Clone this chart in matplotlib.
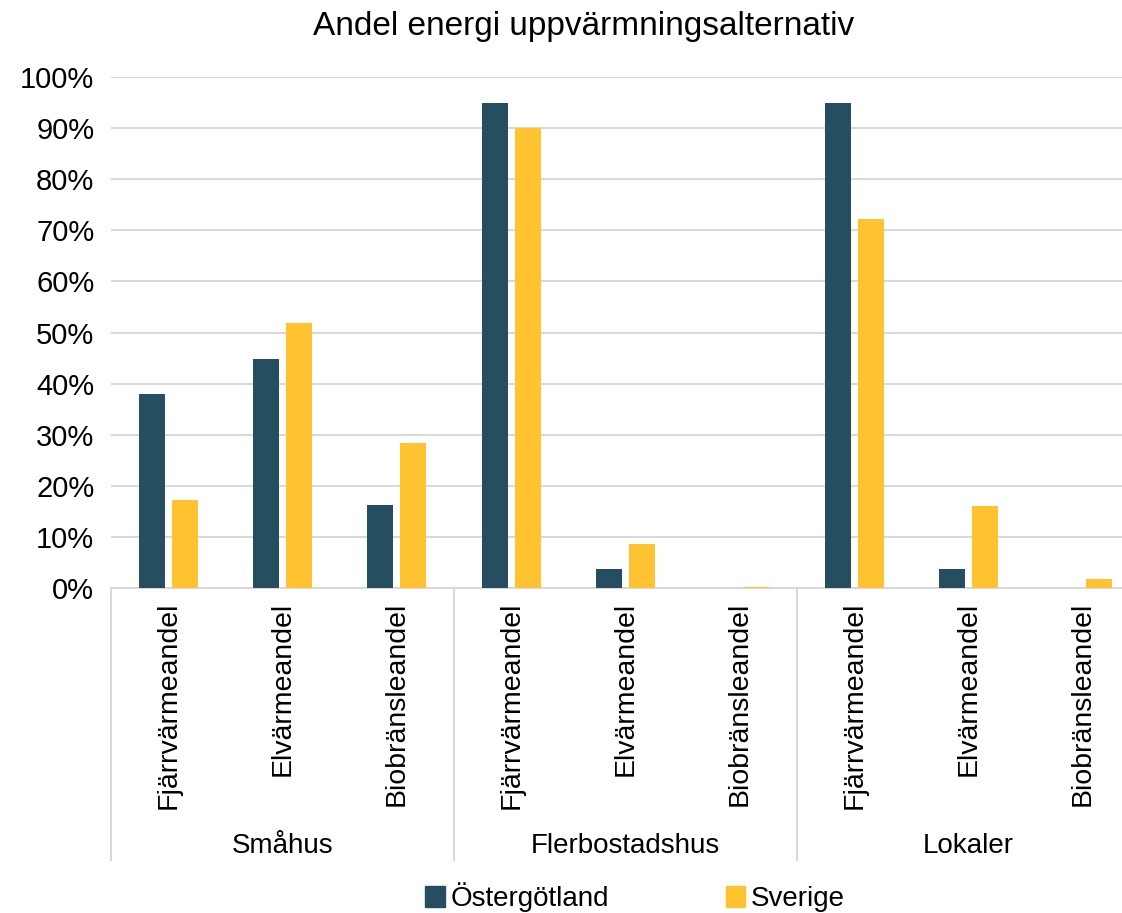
import numpy as np
import matplotlib.pyplot as plt
import matplotlib.transforms as mtransforms
from matplotlib.patches import Patch

plt.rcParams['font.family'] = ['Liberation Sans', 'DejaVu Sans']

# Data
groups = ['Småhus', 'Flerbostadshus', 'Lokaler']
categories = ['Fjärrvärmeandel', 'Elvärmeandel', 'Biobränsleandel'] * 3
ostergotland = [38.0, 44.9, 16.3, 94.9, 3.7, 0.0, 94.9, 3.7, 0.0]
sverige = [17.2, 51.9, 28.3, 90.1, 8.7, 0.2, 72.2, 16.1, 1.8]

dark = '#254E60'
yellow = '#FFC332'
grid_col = '#D9D9D9'

fig = plt.figure(figsize=(11.22, 9.13), dpi=100)
ax = fig.add_axes([111 / 1122, 1 - 588 / 913, (1140 - 111) / 1122, 511 / 913])

x = np.arange(len(categories))
w = 0.227
off = 0.144
ax.bar(x - off, ostergotland, w, color=dark, zorder=3)
ax.bar(x + off, sverige, w, color=yellow, zorder=3)

ax.set_ylim(0, 100)
ax.set_xlim(-0.5, len(categories) - 0.5)
ax.set_yticks(np.arange(0, 101, 10))
ax.set_yticklabels([f'{v}%' for v in range(0, 101, 10)])
ax.yaxis.grid(True, color=grid_col, lw=1.5, zorder=0)
ax.set_axisbelow(True)
for s in ['left', 'right', 'top']:
    ax.spines[s].set_visible(False)
ax.spines['bottom'].set_color(grid_col)
ax.spines['bottom'].set_linewidth(1.5)
ax.tick_params(axis='y', length=0, labelsize=21, pad=12)
ax.tick_params(axis='x', length=0, labelsize=20.5, pad=10)
ax.set_xticks(x)
ax.set_xticklabels(categories, rotation=90, va='top', ha='center')

# group separators and labels under the axis
trans = mtransforms.blended_transform_factory(ax.transData, ax.transAxes)
for edge in [-0.5, 2.5, 5.5, 8.5]:
    ax.plot([edge, edge], [0, -0.532], color=grid_col, lw=1.5,
            transform=trans, clip_on=False)
for i, g in enumerate(groups):
    ax.text(i * 3 + 1, -0.505, g, transform=trans, ha='center', va='center',
            fontsize=20)

fig.text(584 / 1122, 1 - 27 / 913, 'Andel energi uppvärmningsalternativ',
         ha='center', va='center', fontsize=24)

handles = [Patch(color=dark, label='Östergötland'),
           Patch(color=yellow, label='Sverige')]
fig.legend(handles=handles, loc='center', bbox_to_anchor=(635 / 1122, 1 - 897 / 913),
           ncol=2, frameon=False, fontsize=20, handlelength=0.7,
           handleheight=0.8, handletextpad=0.2, columnspacing=4.2)

fig.savefig('out.png', dpi=100)
